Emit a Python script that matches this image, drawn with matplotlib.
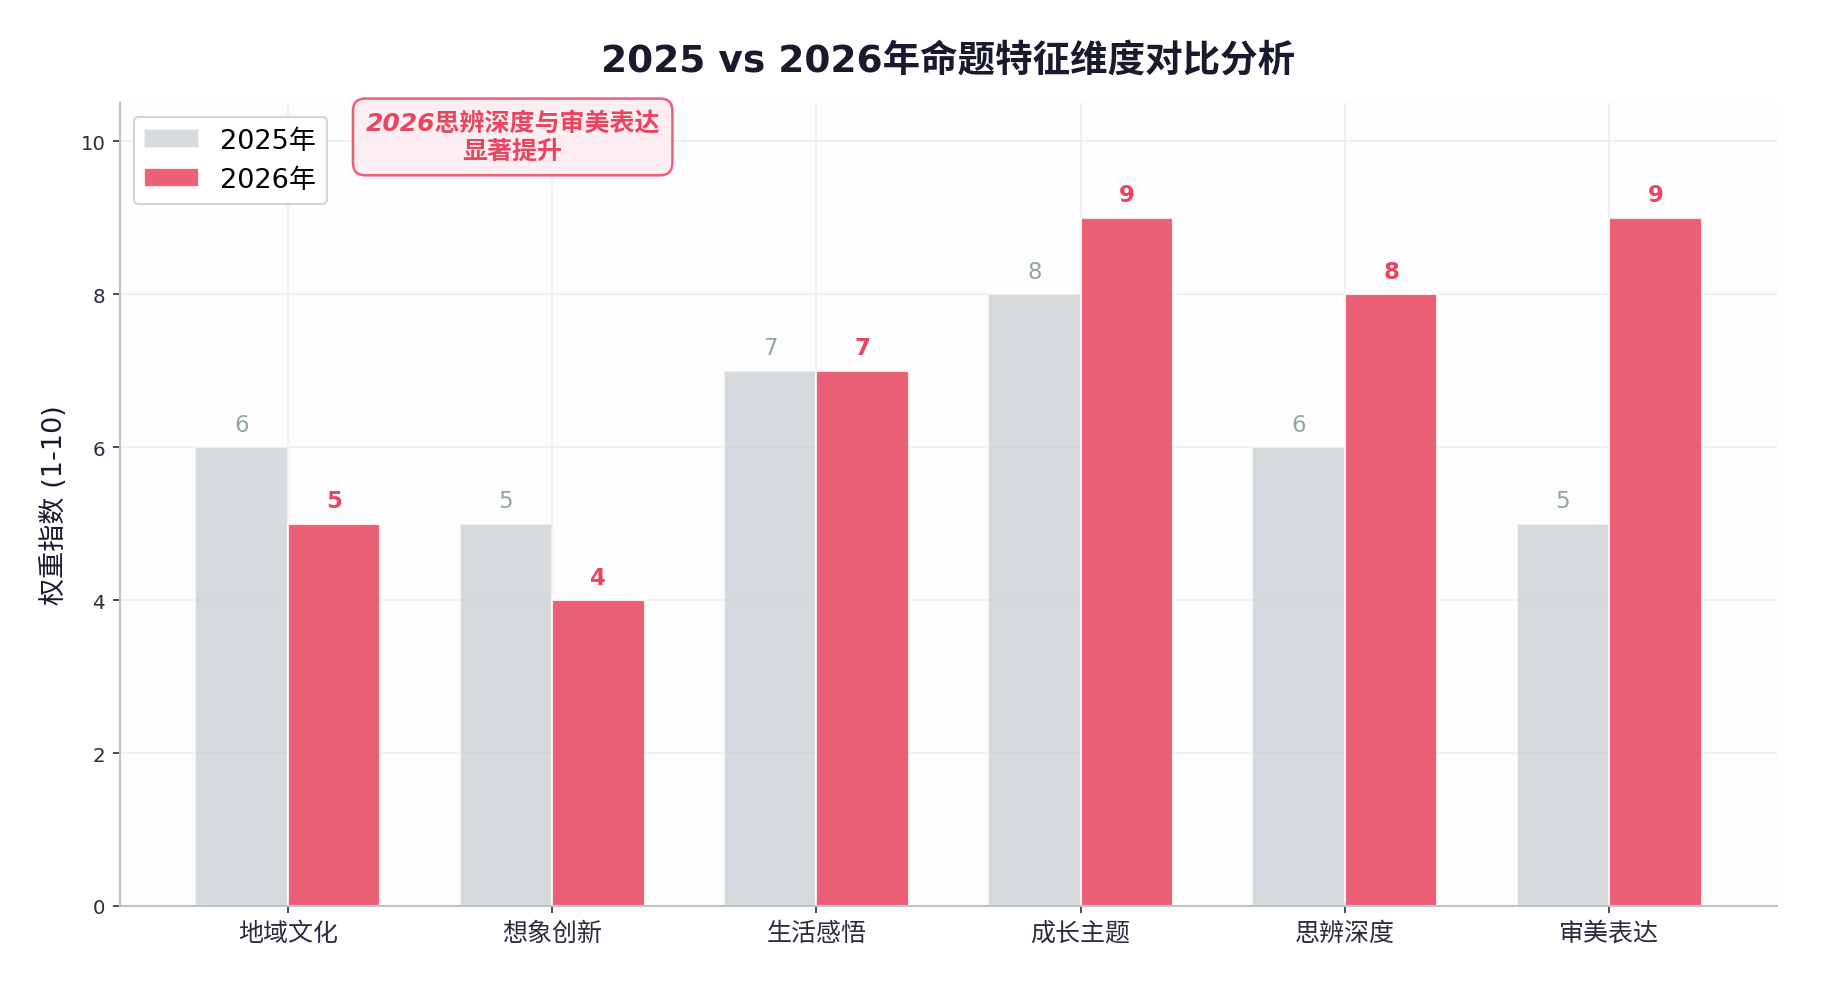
import numpy as np
import matplotlib
matplotlib.use('Agg')
from matplotlib import pyplot as plt

plt.rcParams['font.family'] = ['DejaVu Sans', 'Noto Sans CJK SC']
plt.rcParams['axes.unicode_minus'] = False

categories = ['地域文化', '想象创新', '生活感悟', '成长主题', '思辨深度', '审美表达']
vals_2025 = [6, 5, 7, 8, 6, 5]
vals_2026 = [5, 4, 7, 9, 8, 9]
series_names = ['2025年', '2026年']

gray = '#BDC3C7'
red = '#E94560'
dark = '#1A1A2E'

fig = plt.figure(figsize=(12.14, 6.613), dpi=150)
ax = fig.add_axes([0.0659, 0.0857, 0.9099, 0.8093])
ax.set_facecolor('#FDFDFD')

x = np.arange(len(categories))
w = 0.35
b1 = ax.bar(x - w/2, vals_2025, w, color=gray, alpha=0.6, edgecolor='white', linewidth=1, label=series_names[0])
b2 = ax.bar(x + w/2, vals_2026, w, color=red, alpha=0.85, edgecolor='white', linewidth=1, label=series_names[1])

for rect, v in zip(b1, vals_2025):
    ax.text(rect.get_x() + rect.get_width()/2, v + 0.15, str(v), ha='center', va='bottom',
            fontsize=11, color='#95A5A6')
for rect, v in zip(b2, vals_2026):
    ax.text(rect.get_x() + rect.get_width()/2, v + 0.15, str(v), ha='center', va='bottom',
            fontsize=11, color=red, fontweight='bold')

ax.set_ylim(0, 10.5)
ax.set_xticks(x)
ax.set_xticklabels(categories, fontsize=12, color='#2C2C3E')
ax.tick_params(axis='y', labelsize=9.5, colors='#2C2C3E')
ax.tick_params(axis='x', colors='#2C2C3E')
ax.set_ylabel('权重指数 (1-10)', fontsize=13, color=dark, labelpad=6)
ax.set_title('2025 vs 2026年命题特征维度对比分析', fontsize=18, fontweight='bold', color=dark, pad=15)

ax.grid(True, color='#EEEEEE', linewidth=0.8)
ax.set_axisbelow(True)
for s in ['top', 'right']:
    ax.spines[s].set_visible(False)
for s in ['left', 'bottom']:
    ax.spines[s].set_color('#BDC3C7')
    ax.spines[s].set_linewidth(1.0)

leg = ax.legend(loc='upper left', fontsize=13, frameon=True, edgecolor='#D5D5D5', framealpha=1)

ax.text(0.237, 0.958, '2026思辨深度与审美表达\n显著提升', transform=ax.transAxes,
        ha='center', va='center', fontsize=12, fontweight='bold', style='italic', color=red,
        bbox=dict(boxstyle='round,pad=0.5', facecolor='#FDECEF', edgecolor=red, alpha=0.85, linewidth=1.2))

fig.savefig('out.png', dpi=150)
